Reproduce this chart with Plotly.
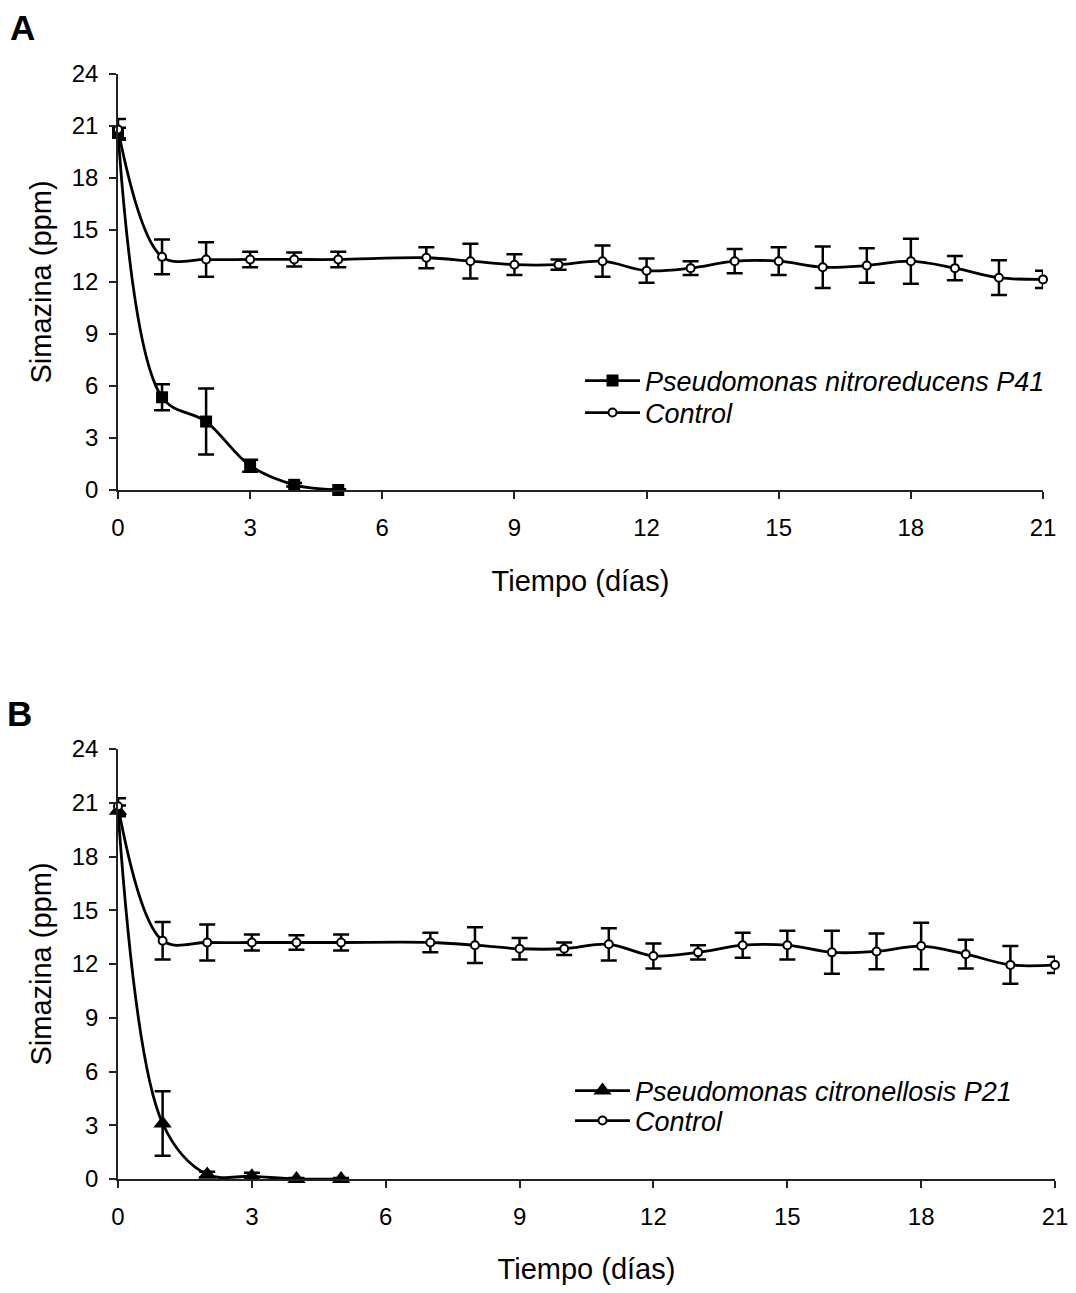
import plotly.graph_objects as go

# ---------------- data ----------------
# Panel A
days_a_strain = [0, 1, 2, 3, 4, 5]
simaz_a_strain = [20.6, 5.35, 3.95, 1.4, 0.3, 0.0]
err_a_strain = [0.3, 0.75, 1.9, 0.35, 0.1, 0.05]

days_control = [0, 1, 2, 3, 4, 5, 7, 8, 9, 10, 11, 12, 13, 14, 15, 16, 17, 18, 19, 20, 21]
simaz_a_control = [20.8, 13.45, 13.3, 13.3, 13.3, 13.3, 13.4, 13.2, 13.0, 13.0, 13.2,
                   12.65, 12.8, 13.2, 13.2, 12.85, 12.95, 13.2, 12.8, 12.25, 12.15]
err_a_control = [0.6, 1.0, 1.0, 0.45, 0.4, 0.45, 0.6, 1.0, 0.6, 0.3, 0.9,
                 0.7, 0.4, 0.7, 0.8, 1.2, 1.0, 1.3, 0.7, 1.0, 0.5]

# Panel B
days_b_strain = [0, 1, 2, 3, 4, 5]
simaz_b_strain = [20.55, 3.1, 0.25, 0.15, 0.0, 0.0]
err_b_strain = [0.3, 1.8, 0.15, 0.2, 0.05, 0.05]

simaz_b_control = [20.8, 13.3, 13.2, 13.2, 13.2, 13.2, 13.2, 13.05, 12.85, 12.85, 13.1,
                   12.45, 12.65, 13.05, 13.05, 12.65, 12.7, 13.0, 12.55, 11.95, 11.95]
err_b_control = [0.45, 1.05, 1.0, 0.45, 0.4, 0.45, 0.55, 1.0, 0.6, 0.35, 0.9,
                 0.7, 0.4, 0.7, 0.8, 1.2, 1.0, 1.3, 0.8, 1.05, 0.45]

name_a = "<i>Pseudomonas nitroreducens P41</i>"
name_b = "<i>Pseudomonas citronellosis P21</i>"
name_ctrl = "<i>Control</i>"
x_ticks = [0, 3, 6, 9, 12, 15, 18, 21]
y_ticks = [0, 3, 6, 9, 12, 15, 18, 21, 24]
x_title = "Tiempo (días)"
y_title = "Simazina (ppm)"

FONT = "Liberation Sans, Arial, sans-serif"
OFF = 8  # page body margin
W, H = 1076 - 2 * OFF, 1293 - 2 * OFF


def px(x):
    return (x - OFF) / W


def py(y):
    return 1 - (y - OFF) / H


fig = go.Figure()


def err(vals):
    return dict(type="data", array=vals, visible=True, color="black", thickness=2.5, width=8)


line = dict(color="black", width=2.8, shape="spline", smoothing=1.0)
circle = dict(symbol="circle", size=8, color="white", line=dict(color="black", width=2))

# Panel A traces
fig.add_trace(go.Scatter(x=days_a_strain, y=simaz_a_strain, name=name_a, mode="lines+markers",
                         line=line, error_y=err(err_a_strain),
                         marker=dict(symbol="square", size=12, color="black"),
                         xaxis="x", yaxis="y", legend="legend", cliponaxis=False))
fig.add_trace(go.Scatter(x=days_control, y=simaz_a_control, name=name_ctrl, mode="lines+markers",
                         line=line, error_y=err(err_a_control), marker=circle,
                         xaxis="x", yaxis="y", legend="legend2", cliponaxis=False))

# Panel B traces
fig.add_trace(go.Scatter(x=days_b_strain, y=simaz_b_strain, name=name_b, mode="lines+markers",
                         line=line, error_y=err(err_b_strain),
                         marker=dict(symbol="triangle-up", size=16, color="black"),
                         xaxis="x2", yaxis="y2", legend="legend3", cliponaxis=False))
fig.add_trace(go.Scatter(x=days_control, y=simaz_b_control, name=name_ctrl, mode="lines+markers",
                         line=line, error_y=err(err_b_control), marker=circle,
                         xaxis="x2", yaxis="y2", legend="legend4", cliponaxis=False))


def xax(domain, anchor):
    return dict(domain=domain, anchor=anchor, range=[0, 21], tickvals=x_ticks, automargin=False,
                showline=True, linecolor="#222", linewidth=1.5, ticks="outside", ticklen=7,
                tickcolor="#222", tickwidth=1.5, showgrid=False, zeroline=False,
                ticklabeloverflow="allow",
                tickfont=dict(family=FONT, size=24, color="black"), ticklabelstandoff=8,
                title=dict(text=x_title, font=dict(family=FONT, size=29, color="black"), standoff=31))


def yax(domain, anchor):
    return dict(domain=domain, anchor=anchor, range=[0, 24], tickvals=y_ticks, automargin=False,
                showline=True, linecolor="#222", linewidth=1.5, ticks="outside", ticklen=7,
                tickcolor="#222", tickwidth=1.5, showgrid=False, zeroline=False,
                tickfont=dict(family=FONT, size=24, color="black"), ticklabelstandoff=6,
                title=dict(text=y_title, font=dict(family=FONT, size=29, color="black"), standoff=12))


legend_style = dict(font=dict(family=FONT, size=27, color="black"), bgcolor="rgba(0,0,0,0)",
                    xanchor="left", yanchor="middle", itemwidth=55, tracegroupgap=0,
                    itemsizing="trace")

fig.update_layout(
    width=W, height=H,
    margin=dict(l=0, r=0, t=0, b=0, autoexpand=False),
    paper_bgcolor="white", plot_bgcolor="white",
    xaxis=xax([px(118), px(1043)], "y"),
    yaxis=yax([py(490), py(74)], "x"),
    xaxis2=xax([px(118), px(1055)], "y2"),
    yaxis2=yax([py(1179), py(749)], "x2"),
    legend=dict(x=px(580), y=py(381), **legend_style),
    legend2=dict(x=px(580), y=py(413), **legend_style),
    legend3=dict(x=px(570), y=py(1091), **legend_style),
    legend4=dict(x=px(570), y=py(1121), **legend_style),
    annotations=[
        dict(text="<b>A</b>", x=px(8), y=py(6), xref="paper", yref="paper",
             xanchor="left", yanchor="top", showarrow=False,
             font=dict(family=FONT, size=35, color="black")),
        dict(text="<b>B</b>", x=px(5), y=py(692), xref="paper", yref="paper",
             xanchor="left", yanchor="top", showarrow=False,
             font=dict(family=FONT, size=35, color="black")),
    ],
    showlegend=True,
)

fig.write_html("out.html")
